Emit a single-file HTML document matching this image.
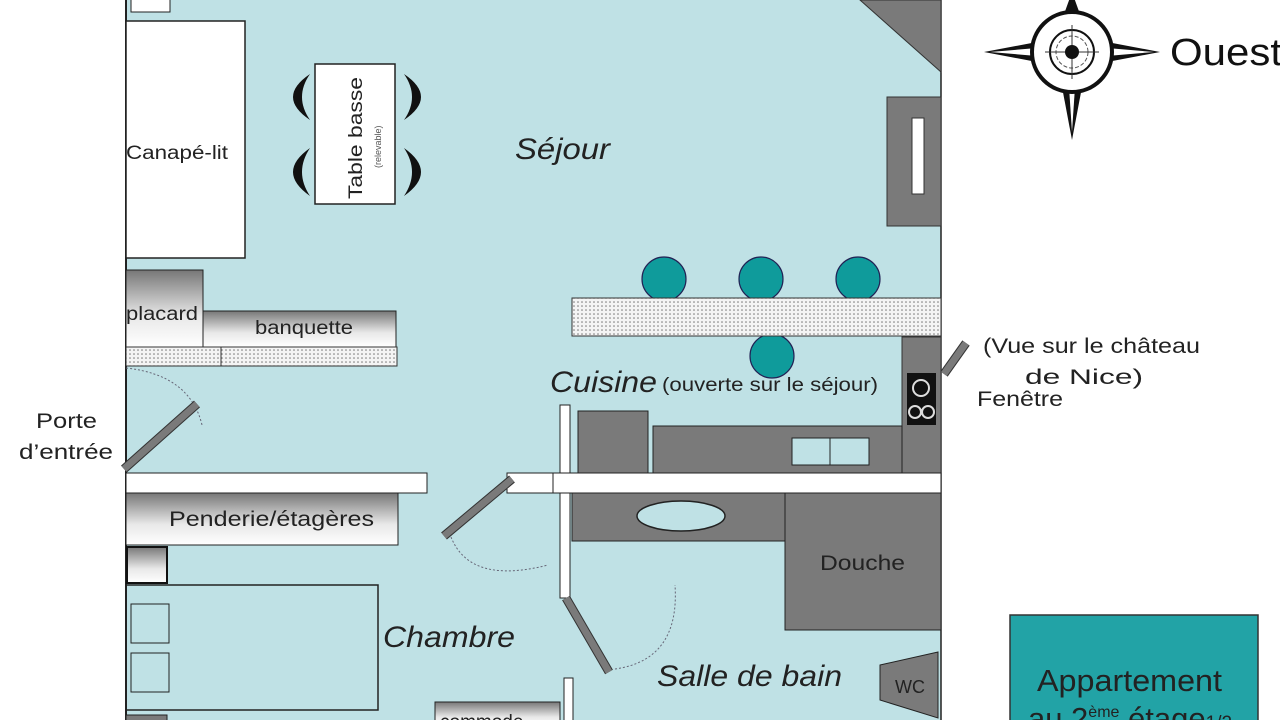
<!DOCTYPE html>
<html><head><meta charset="utf-8"><style>
html,body{margin:0;padding:0;background:#fff;}
svg{display:block;font-family:"Liberation Sans",sans-serif;}
</style></head><body>
<svg width="1280" height="720" viewBox="0 0 1280 720" xmlns="http://www.w3.org/2000/svg">
<defs>
<pattern id="dots" width="4" height="4" patternUnits="userSpaceOnUse"><rect width="4" height="4" fill="#f4f4f4"/><circle cx="2" cy="2" r="0.8" fill="#777"/></pattern>
<linearGradient id="g1" x1="0" y1="0" x2="0" y2="1"><stop offset="0" stop-color="#777"/><stop offset="0.6" stop-color="#e8e8e8"/><stop offset="1" stop-color="#fff"/></linearGradient>
</defs>
<rect x="126" y="0" width="815" height="720" fill="#bfe1e5"/>
<line x1="126" y1="0" x2="126" y2="720" stroke="#222" stroke-width="2"/>
<line x1="941" y1="0" x2="941" y2="720" stroke="#222" stroke-width="1.5"/>
<rect x="131" y="-2" width="39" height="14" fill="#fff" stroke="#222"/>
<rect x="126" y="21" width="119" height="237" fill="#fff" stroke="#222" stroke-width="1.5"/>
<text x="126" y="159" font-size="19" fill="#222" textLength="102" lengthAdjust="spacingAndGlyphs">Canapé-lit</text>
<rect x="315" y="64" width="80" height="140" fill="#fff" stroke="#222" stroke-width="1.5"/>
<text transform="translate(362,199) rotate(-90)" font-size="19" fill="#222" textLength="122" lengthAdjust="spacingAndGlyphs">Table basse</text>
<text transform="translate(381,168) rotate(-90)" font-size="9" fill="#555">(relevable)</text>
<g fill="#111">
<path d="M310,74 Q276,97 310,120 Q294,97 310,74Z"/>
<path d="M310,148 Q276,172 310,196 Q294,172 310,148Z"/>
<path d="M404,74 Q438,97 404,120 Q420,97 404,74Z"/>
<path d="M404,148 Q438,172 404,196 Q420,172 404,148Z"/>
</g>
<text x="515" y="159" font-size="30" font-style="italic" fill="#222" textLength="95" lengthAdjust="spacingAndGlyphs">Séjour</text>
<polygon points="860,0 941,0 941,72" fill="#7a7a7a" stroke="#333"/>
<rect x="887" y="97" width="54" height="129" fill="#7a7a7a" stroke="#333"/>
<rect x="912" y="118" width="12" height="76" fill="#fff" stroke="#333"/>
<g fill="#0f9b9b" stroke="#225" stroke-width="1.2">
<circle cx="664" cy="279" r="22"/><circle cx="761" cy="279" r="22"/><circle cx="858" cy="279" r="22"/><circle cx="772" cy="356" r="22"/>
</g>
<rect x="572" y="298" width="369" height="38" fill="url(#dots)" stroke="#333"/>
<rect x="126" y="270" width="77" height="77" fill="url(#g1)" stroke="#222"/>
<text x="126" y="320" font-size="19" fill="#222" textLength="72" lengthAdjust="spacingAndGlyphs">placard</text>
<rect x="203" y="311" width="193" height="36" fill="url(#g1)" stroke="#222"/>
<text x="255" y="334" font-size="19" fill="#222" textLength="98" lengthAdjust="spacingAndGlyphs">banquette</text>
<rect x="126" y="347" width="95" height="19" fill="url(#dots)" stroke="#333"/>
<rect x="221" y="347" width="176" height="19" fill="url(#dots)" stroke="#333"/>
<path d="M126,368 Q190,375 202,425" fill="none" stroke="#667" stroke-dasharray="2,2"/>
<line x1="124" y1="469" x2="197" y2="404" stroke="#333" stroke-width="9"/>
<line x1="124" y1="469" x2="197" y2="404" stroke="#7a7a7a" stroke-width="7"/>
<text x="36" y="428" font-size="21" fill="#222" textLength="61" lengthAdjust="spacingAndGlyphs">Porte</text>
<text x="19" y="459" font-size="21" fill="#222" textLength="94" lengthAdjust="spacingAndGlyphs">d’entrée</text>
<text x="550" y="392" font-size="30" font-style="italic" fill="#222" textLength="107" lengthAdjust="spacingAndGlyphs">Cuisine</text>
<text x="662" y="391" font-size="19" fill="#222" textLength="216" lengthAdjust="spacingAndGlyphs">(ouverte sur le séjour)</text>
<rect x="902" y="337" width="39" height="136" fill="#7a7a7a" stroke="#333"/>
<rect x="907" y="373" width="29" height="52" fill="#111"/>
<circle cx="921" cy="388" r="8" fill="none" stroke="#ddd" stroke-width="2"/>
<circle cx="915" cy="412" r="6" fill="none" stroke="#ddd" stroke-width="2"/>
<circle cx="928" cy="412" r="6" fill="none" stroke="#ddd" stroke-width="2"/>
<line x1="944" y1="374" x2="966" y2="343" stroke="#333" stroke-width="9"/>
<line x1="944" y1="374" x2="966" y2="343" stroke="#7a7a7a" stroke-width="7"/>
<text x="983" y="353" font-size="21" fill="#222" textLength="217" lengthAdjust="spacingAndGlyphs">(Vue sur le château</text>
<text x="1025" y="384" font-size="21" fill="#222" textLength="118" lengthAdjust="spacingAndGlyphs">de Nice)</text>
<text x="977" y="406" font-size="21" fill="#222" textLength="86" lengthAdjust="spacingAndGlyphs">Fenêtre</text>
<rect x="578" y="411" width="70" height="62" fill="#7a7a7a" stroke="#222"/>
<rect x="653" y="426" width="249" height="47" fill="#7a7a7a" stroke="#222"/>
<rect x="792" y="438" width="38" height="27" fill="#bfe1e5" stroke="#222"/>
<rect x="830" y="438" width="39" height="27" fill="#bfe1e5" stroke="#222"/>
<rect x="560" y="405" width="10" height="193" fill="#fff" stroke="#222"/>
<rect x="126" y="473" width="301" height="20" fill="#fff" stroke="#222"/>
<rect x="507" y="473" width="46" height="20" fill="#fff" stroke="#222"/>
<rect x="553" y="473" width="388" height="20" fill="#fff" stroke="#222"/>
<path d="M451,537 Q470,585 548,565" fill="none" stroke="#667" stroke-dasharray="2,2"/>
<line x1="444" y1="536" x2="512" y2="479" stroke="#333" stroke-width="9"/>
<line x1="444" y1="536" x2="512" y2="479" stroke="#7a7a7a" stroke-width="7"/>
<rect x="126" y="493" width="272" height="52" fill="url(#g1)" stroke="#222"/>
<text x="169" y="526" font-size="21" fill="#222" textLength="205" lengthAdjust="spacingAndGlyphs">Penderie/étagères</text>
<rect x="127" y="547" width="40" height="36" fill="url(#g1)" stroke="#111" stroke-width="2"/>
<rect x="126" y="585" width="252" height="125" fill="none" stroke="#222" stroke-width="1.5"/>
<rect x="131" y="604" width="38" height="39" fill="none" stroke="#222"/>
<rect x="131" y="653" width="38" height="39" fill="none" stroke="#222"/>
<text x="383" y="647" font-size="30" font-style="italic" fill="#222" textLength="132" lengthAdjust="spacingAndGlyphs">Chambre</text>
<rect x="126" y="715" width="41" height="10" fill="#7a7a7a" stroke="#222"/>
<rect x="435" y="702" width="125" height="25" fill="url(#g1)" stroke="#222"/>
<text x="440" y="728" font-size="19" fill="#222">commode</text>
<rect x="572" y="493" width="213" height="48" fill="#7a7a7a" stroke="#222"/>
<ellipse cx="681" cy="516" rx="44" ry="15" fill="#bfe1e5" stroke="#222" stroke-width="1.5"/>
<rect x="785" y="493" width="156" height="137" fill="#7a7a7a" stroke="#222"/>
<text x="820" y="570" font-size="21" fill="#222" textLength="85" lengthAdjust="spacingAndGlyphs">Douche</text>
<path d="M615,669 Q680,660 675,585" fill="none" stroke="#667" stroke-dasharray="2,2"/>
<line x1="566" y1="598" x2="609" y2="672" stroke="#333" stroke-width="9"/>
<line x1="566" y1="598" x2="609" y2="672" stroke="#7a7a7a" stroke-width="7"/>
<text x="657" y="686" font-size="30" font-style="italic" fill="#222" textLength="185" lengthAdjust="spacingAndGlyphs">Salle de bain</text>
<polygon points="880,665 938,652 938,718 880,700" fill="#7a7a7a" stroke="#222"/>
<text x="910" y="693" font-size="18" fill="#222" text-anchor="middle">WC</text>
<rect x="564" y="678" width="9" height="50" fill="#fff" stroke="#222"/>
<g transform="translate(1072,52)">
<polygon points="-88,0 -35,-10 -35,10" fill="#111"/>
<polygon points="-82,0 -35,-4 -35,4" fill="#fff"/>
<polygon points="88,0 35,-10 35,10" fill="#111"/>
<polygon points="82,0 35,-4 35,4" fill="#fff"/>
<polygon points="0,88 -10,35 10,35" fill="#111"/>
<polygon points="0,80 -3,35 3,35" fill="#fff"/>
<polygon points="0,-60 -9,-35 9,-35" fill="#111"/>
<circle r="40" fill="#fff" stroke="#111" stroke-width="4"/>
<circle r="22" fill="none" stroke="#111" stroke-width="2"/>
<circle r="16" fill="none" stroke="#555" stroke-width="1" stroke-dasharray="4,2"/>
<line x1="-27" y1="0" x2="27" y2="0" stroke="#333"/>
<line x1="0" y1="-27" x2="0" y2="27" stroke="#333"/>
<circle r="7" fill="#111"/>
</g>
<text x="1170" y="65" font-size="38" fill="#111" textLength="112" lengthAdjust="spacingAndGlyphs">Ouest</text>
<rect x="1010" y="615" width="248" height="110" fill="#22a3a6" stroke="#333" stroke-width="1.5"/>
<text x="1037" y="691" font-size="31" fill="#222" textLength="185" lengthAdjust="spacingAndGlyphs">Appartement</text>
<text x="1130" y="729" font-size="31" fill="#222" text-anchor="middle">au 2<tspan font-size="16" dy="-12">ème</tspan><tspan dy="12"> étage</tspan><tspan font-size="19">1/2</tspan></text>
</svg>
</body></html>
